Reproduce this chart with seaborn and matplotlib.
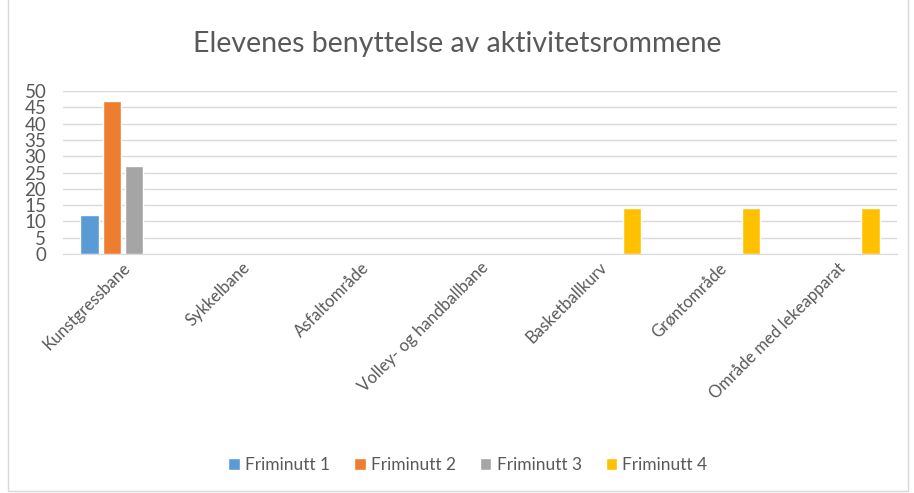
import pandas as pd
import matplotlib.pyplot as plt
import seaborn as sns
from matplotlib.patches import Rectangle

# Data lest av fra figuren
kategorier = ["Kunstgressbane", "Sykkelbane", "Asfaltområde", "Volley- og handballbane",
              "Basketballkurv", "Grøntområde", "Område med lekeapparat"]
serier = ["Friminutt 1", "Friminutt 2", "Friminutt 3", "Friminutt 4"]
friminutt_1 = [12, 0, 0, 0, 0, 0, 0]
friminutt_2 = [47, 0, 0, 0, 0, 0, 0]
friminutt_3 = [27, 0, 0, 0, 0, 0, 0]
friminutt_4 = [0, 0, 0, 0, 14, 14, 14]
farger = ["#5B9BD5", "#ED7D31", "#A5A5A5", "#FFC000"]

rows = []
for navn, verdier in zip(serier, [friminutt_1, friminutt_2, friminutt_3, friminutt_4]):
    for kat, v in zip(kategorier, verdier):
        rows.append({"Aktivitet": kat, "Friminutt": navn, "Antall": v})
data = pd.DataFrame(rows)

sns.set_style("white")
plt.rcParams['font.family'] = ['Lato', 'DejaVu Sans']
tekstfarge = "#595959"

fig = plt.figure(figsize=(9.14, 4.93), dpi=100)
ax = fig.add_axes([63 / 914, 1 - 254 / 493, (897 - 63) / 914, (254 - 91) / 493])

sns.barplot(data=data, x="Aktivitet", y="Antall", hue="Friminutt", palette=farger,
            width=0.74, gap=0.18, ax=ax, legend=True, saturation=1)

ax.set_ylim(0, 50)
ax.set_yticks(range(0, 51, 5))
ax.set_xlim(-0.5, len(kategorier) - 0.5)
ax.yaxis.grid(True, color="#D9D9D9", linewidth=1)
ax.set_axisbelow(True)
for side in ["top", "right", "left"]:
    ax.spines[side].set_visible(False)
ax.spines["bottom"].set_color("#D9D9D9")
ax.set_xlabel("")
ax.set_ylabel("")
ax.tick_params(axis="y", labelsize=13.5, colors=tekstfarge, length=0, pad=12)
ax.tick_params(axis="x", labelsize=12, colors=tekstfarge, length=0, pad=4)
plt.setp(ax.get_xticklabels(), rotation=45, ha="right", rotation_mode="anchor")

fig.suptitle("Elevenes benyttelse av aktivitetsrommene", fontsize=20.5, color=tekstfarge,
             y=1 - 31 / 493, va="top")

handles, labels = ax.get_legend_handles_labels()
ax.legend_.remove()
fig.legend(handles, labels, loc="center", bbox_to_anchor=(468 / 914, 1 - 465 / 493), ncol=4,
           frameon=False, fontsize=12.5, labelcolor=tekstfarge, handlelength=0.65,
           handleheight=0.65, handletextpad=0.3, columnspacing=1.4)

fig.patches.append(Rectangle((8 / 914, 2 / 493), 900 / 914, 520 / 493, transform=fig.transFigure,
                             fill=False, edgecolor="#D9D9D9", linewidth=1))

fig.savefig("out.png", dpi=100)
